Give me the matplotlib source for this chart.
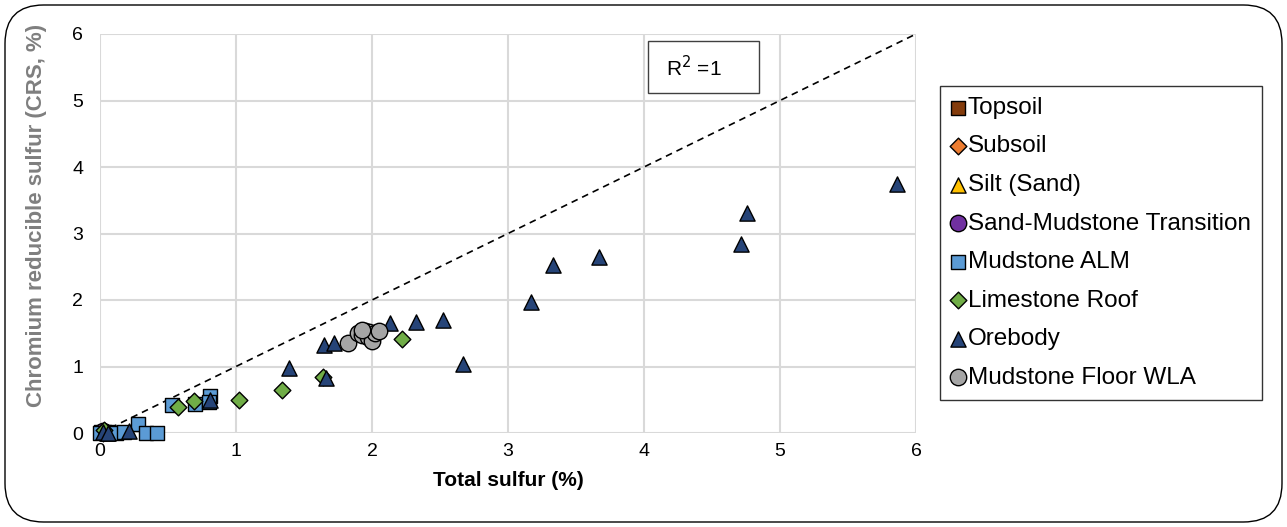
import matplotlib.pyplot as plt
from matplotlib.patches import FancyBboxPatch, Rectangle

plt.rcParams['font.family'] = ['Liberation Sans', 'DejaVu Sans']

# Series: total sulfur (x, %) and CRS (y, %)
topsoil_x = [0.01, 0.03]
topsoil_y = [0.01, 0.02]
subsoil_x = [0.02, 0.04]
subsoil_y = [0.00, 0.01]
silt_x = [0.01, 0.05]
silt_y = [0.02, 0.00]
transition_x = [0.03, 0.02]
transition_y = [0.01, 0.03]
alm_x = [0.00, 0.06, 0.12, 0.18, 0.28, 0.34, 0.42, 0.53, 0.70, 0.81, 0.80]
alm_y = [0.00, 0.01, 0.00, 0.01, 0.14, 0.00, 0.00, 0.42, 0.43, 0.55, 0.46]
roof_x = [0.03, 0.57, 0.69, 1.02, 1.34, 1.64, 2.22]
roof_y = [0.05, 0.39, 0.48, 0.50, 0.65, 0.84, 1.42]
ore_x = [0.02, 0.06, 0.21, 0.81, 1.39, 1.66, 1.65, 1.72, 2.13, 2.32, 2.52,
         2.67, 3.17, 3.33, 3.67, 4.71, 4.76, 5.86]
ore_y = [0.01, 0.00, 0.03, 0.49, 0.97, 0.82, 1.32, 1.36, 1.65, 1.67, 1.70,
         1.04, 1.97, 2.52, 2.65, 2.84, 3.31, 3.74]
floor_x = [1.82, 1.90, 1.93, 1.95, 1.97, 1.98, 2.00, 2.02, 2.05, 1.93]
floor_y = [1.36, 1.50, 1.47, 1.54, 1.45, 1.52, 1.38, 1.50, 1.53, 1.55]

# 1:1 line
line_x = [0, 6]
line_y = [0, 6]

series = [
    ('Topsoil', topsoil_x, topsoil_y, 's', '#843C0C', 100),
    ('Subsoil', subsoil_x, subsoil_y, 'D', '#ED7D31', 72),
    ('Silt (Sand)', silt_x, silt_y, '^', '#FFC000', 120),
    ('Sand-Mudstone Transition', transition_x, transition_y, 'o', '#7030A0', 140),
    ('Mudstone ALM', alm_x, alm_y, 's', '#5B9BD5', 100),
    ('Limestone Roof', roof_x, roof_y, 'D', '#70AD47', 72),
    ('Orebody', ore_x, ore_y, '^', '#264478', 120),
    ('Mudstone Floor WLA', floor_x, floor_y, 'o', '#A5A5A5', 140),
]

fig = plt.figure(figsize=(12.87, 5.27), dpi=100)

# Rounded outer border
border = FancyBboxPatch((5 / 1287, 5 / 527), 1277 / 1287, 517 / 527,
                        boxstyle='round,pad=0,rounding_size=0.03',
                        transform=fig.transFigure, facecolor='none',
                        edgecolor='black', linewidth=1.0, zorder=-1,
                        mutation_aspect=1287 / 527)
fig.patches.append(border)

ax = fig.add_axes([100 / 1287, 1 - 433 / 527, 816 / 1287, 399 / 527])
ax.set_facecolor('none')

for label, xs, ys, marker, color, size in series:
    ax.scatter(xs, ys, marker=marker, s=size, c=color, edgecolors='black',
               linewidths=1.0, label=label, zorder=3, clip_on=False)

ax.plot(line_x, line_y, color='black', linestyle=(0, (4, 3)), linewidth=1.2,
        zorder=2)

ax.set_xlim(0, 6)
ax.set_ylim(0, 6)
ax.set_xticks(range(7))
ax.set_yticks(range(7))
ax.grid(True, color='#D9D9D9', linewidth=1.5, zorder=0)
ax.set_axisbelow(True)
for side in ax.spines.values():
    side.set_visible(False)
ax.tick_params(axis='x', length=0, labelsize=14, colors='black', pad=7)
ax.tick_params(axis='y', length=0, labelsize=14, colors='black', pad=12)

ax.set_xlabel('Total sulfur (%)', fontsize=15, fontweight='bold')
ax.xaxis.set_label_coords(0.5, -47 / 399, transform=ax.transAxes)
ax.xaxis.label.set_va('center')
ax.set_ylabel('Chromium reducible sulfur (CRS, %)', fontsize=16,
              fontweight='bold', color='#7F7F7F')
ax.yaxis.set_label_coords(-63 / 816, 218 / 399)
ax.yaxis.label.set_va('center')

# R^2 box
fig.patches.append(Rectangle((648 / 1287, 1 - 93 / 527), 111 / 1287,
                             52 / 527, transform=fig.transFigure,
                             facecolor='white', edgecolor='#404040',
                             linewidth=1.0, zorder=4))
fig.text(666 / 1287, 1 - 68 / 527, 'R$^2$ =1', fontsize=15, ha='left',
         va='center', zorder=5)

leg = fig.legend(loc='upper left', bbox_to_anchor=(940 / 1287, 1 - 86 / 527),
                 frameon=True, fancybox=False, edgecolor='black',
                 fontsize=17.5, labelspacing=0.68, handletextpad=0.1,
                 handlelength=0.6, borderpad=0.45, borderaxespad=0,
                 scatterpoints=1)
leg.get_frame().set_linewidth(1.0)

fig.savefig('out.png', dpi=100)
